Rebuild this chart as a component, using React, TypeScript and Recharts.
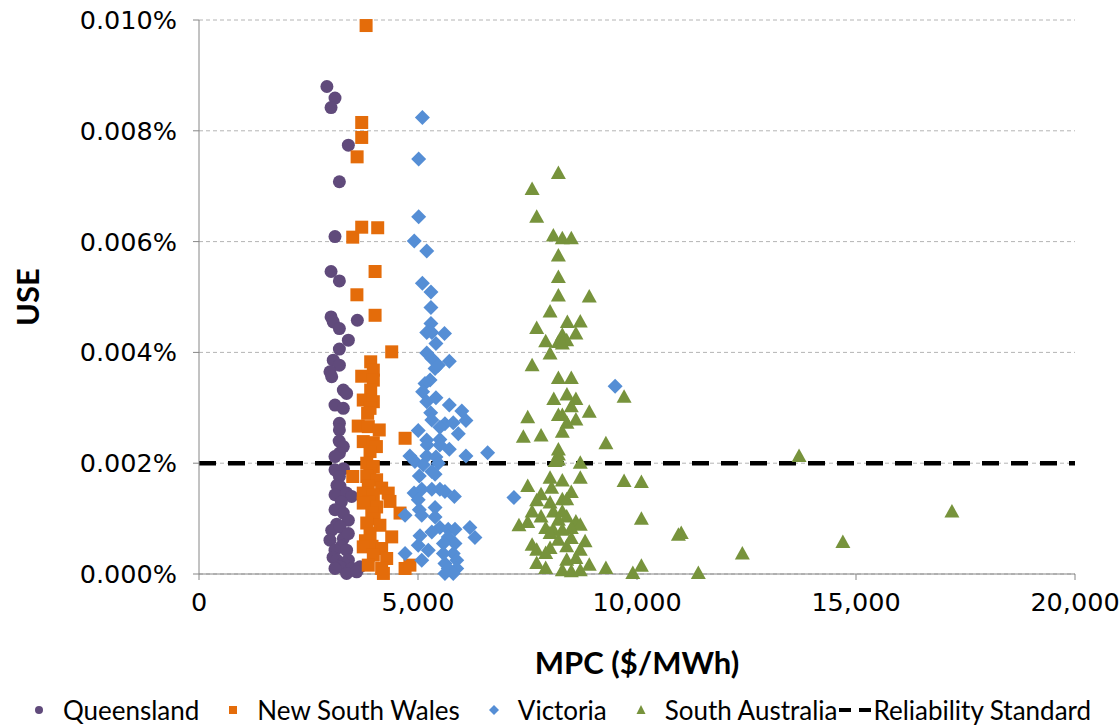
import { CartesianGrid, Legend, ReferenceLine, Scatter, ScatterChart, XAxis, YAxis } from "recharts"

// MPC ($/MWh), USE (%)
const queensland: [number, number][] = [
  [2920, 0.0088], [3105, 0.00859], [3015, 0.00842], [3410, 0.00774], [3205, 0.00708],
  [3105, 0.00609], [3015, 0.00546], [3205, 0.00529], [3015, 0.00464], [3615, 0.00458],
  [3065, 0.00455], [3205, 0.00443], [3410, 0.00422], [3205, 0.00406], [3065, 0.00386],
  [3205, 0.00377], [2990, 0.00365], [3030, 0.00356], [3295, 0.00332], [3370, 0.00326],
  [3105, 0.00305], [3295, 0.00299], [3205, 0.00272], [3205, 0.0026], [3200, 0.0024],
  [3295, 0.0023], [3205, 0.00218], [3105, 0.00212], [3300, 0.0019], [3105, 0.00188],
  [3205, 0.00176], [3150, 0.0016], [3220, 0.00158], [3105, 0.00143], [3370, 0.00146],
  [3485, 0.0014], [3250, 0.0013], [3105, 0.00116], [3295, 0.0011], [3410, 0.00097],
  [3145, 0.0009], [3030, 0.00079], [3220, 0.00085], [2990, 0.00061], [3295, 0.00064],
  [3410, 0.00073], [3250, 0.0005], [3105, 0.00043], [3370, 0.00043], [3060, 0.0003],
  [3145, 0.00025], [3410, 0.00025], [3300, 0.0002], [3220, 0.00013], [3485, 0.0001],
  [3675, 0.00013], [3370, 0.00001], [3105, 0.0001], [3600, 0.00004],
]

const newSouthWales: [number, number][] = [
  [3815, 0.0099], [3715, 0.00815], [3715, 0.00788], [3610, 0.00753], [3715, 0.00626],
  [3510, 0.00608], [4080, 0.00625], [4020, 0.00546], [3605, 0.00504], [4020, 0.00467],
  [4400, 0.00401], [3920, 0.00383], [3980, 0.00368], [3715, 0.00357], [3980, 0.0035],
  [3920, 0.00332], [3750, 0.00314], [3980, 0.00311], [3905, 0.00299], [3850, 0.0029],
  [3635, 0.00267], [3865, 0.00266], [4115, 0.0026], [3750, 0.00239], [3980, 0.00237],
  [4705, 0.00245], [4050, 0.0023], [3905, 0.00221], [3830, 0.002], [3980, 0.00194],
  [3900, 0.0018], [3510, 0.00176], [3830, 0.00176], [4055, 0.0017], [3865, 0.00158],
  [4170, 0.00155], [3750, 0.00146], [4320, 0.00146], [3980, 0.00143], [3880, 0.0013],
  [3750, 0.00128], [4360, 0.00131], [4055, 0.00121], [4590, 0.0011], [3945, 0.0011],
  [4000, 0.001], [3830, 0.00092], [4130, 0.00088], [3905, 0.00073], [4400, 0.00067],
  [3800, 0.0006], [3950, 0.0005], [3750, 0.00049], [4170, 0.00046], [3980, 0.00034],
  [4285, 0.00028], [3865, 0.00016], [4170, 0.0001], [4705, 0.0001], [4815, 0.00016],
  [4210, 0.00001],
]

const victoria: [number, number][] = [
  [5100, 0.00824], [5015, 0.00749], [5015, 0.00645], [4915, 0.00601], [5200, 0.00583],
  [5100, 0.00525], [5295, 0.00509], [5295, 0.00481], [5295, 0.00452], [5200, 0.00436],
  [5315, 0.00436], [5605, 0.00434], [5410, 0.00416], [5200, 0.00399], [5315, 0.00389],
  [5465, 0.00377], [5715, 0.00384], [5390, 0.00371], [5275, 0.0035], [5160, 0.00344],
  [5105, 0.00329], [5200, 0.00311], [5410, 0.00318], [5715, 0.00305], [6000, 0.00294],
  [5290, 0.00291], [5315, 0.00278], [6095, 0.00277], [5615, 0.00271], [5805, 0.00273],
  [5500, 0.00265], [5920, 0.00253], [5005, 0.00259], [5200, 0.00242], [5500, 0.00243],
  [5210, 0.00233], [5500, 0.00233], [5715, 0.00225], [6590, 0.00219], [6095, 0.00213],
  [4815, 0.00213], [5200, 0.00213], [5410, 0.00211], [4930, 0.00203], [5120, 0.00197],
  [5465, 0.002], [5315, 0.00185], [5030, 0.00177], [5390, 0.0018], [7190, 0.00138],
  [4910, 0.00146], [5085, 0.00153], [5315, 0.00153], [5500, 0.00153], [5615, 0.00149],
  [5830, 0.0014], [5005, 0.00134], [4705, 0.00106], [5030, 0.00116], [5085, 0.00106],
  [5390, 0.0012], [5390, 0.00103], [6185, 0.00084], [6300, 0.00066], [5500, 0.00084],
  [5690, 0.00081], [5845, 0.00081], [5315, 0.00076], [5045, 0.00069], [5690, 0.00067],
  [5845, 0.00055], [5580, 0.00055], [5005, 0.00052], [5235, 0.00043], [4705, 0.00037],
  [5580, 0.00037], [5805, 0.00037], [5885, 0.00025], [5085, 0.00025], [5615, 0.00019],
  [5690, 0.0001], [5885, 0.0001], [5805, 0.00001], [5615, 0.00001], [9500, 0.00339],
]

const southAustralia: [number, number][] = [
  [8205, 0.00723], [7605, 0.00694], [7710, 0.00644], [8090, 0.0061], [8295, 0.00605],
  [8500, 0.00605], [8205, 0.00574], [8205, 0.00535], [8205, 0.00502], [8910, 0.005],
  [8015, 0.00473], [7710, 0.00443], [8410, 0.00454], [8705, 0.00455], [8605, 0.00433],
  [7915, 0.00419], [8295, 0.00431], [8205, 0.00418], [8395, 0.00421], [8295, 0.00415],
  [8015, 0.00397], [7605, 0.00376], [8205, 0.00353], [8500, 0.00353], [9705, 0.00319],
  [8400, 0.00323], [8100, 0.00315], [8605, 0.00315], [8500, 0.00302], [8910, 0.00292],
  [7505, 0.00282], [8205, 0.00286], [8295, 0.00286], [8605, 0.00278], [8400, 0.00272],
  [8295, 0.00256], [7405, 0.00247], [7810, 0.00249], [9290, 0.00235], [8205, 0.00224],
  [8205, 0.00215], [8130, 0.00203], [8705, 0.002], [8205, 0.00206], [8015, 0.00173],
  [8295, 0.00168], [8705, 0.00173], [9705, 0.00167], [10100, 0.00165], [7505, 0.00158],
  [8050, 0.00155], [7810, 0.00143], [8500, 0.00147], [7710, 0.00132], [8295, 0.00134],
  [8395, 0.00134], [8015, 0.00128], [7605, 0.00112], [7810, 0.00103], [8090, 0.00112],
  [8295, 0.00112], [8395, 0.00103], [8205, 0.00097], [10100, 0.00099], [7305, 0.00087],
  [7505, 0.00093], [8605, 0.00094], [8705, 0.00088], [7915, 0.00082], [8090, 0.00079],
  [8295, 0.00079], [8500, 0.00082], [8015, 0.00073], [8205, 0.00061], [8500, 0.00064],
  [7605, 0.00052], [7710, 0.00043], [8015, 0.00046], [7915, 0.00037], [8395, 0.00049],
  [8815, 0.00058], [8705, 0.00043], [7710, 0.00019], [7915, 0.0001], [8395, 0.00025],
  [8605, 0.00028], [8910, 0.00016], [8295, 0.00006], [8500, 0.00004], [8705, 0.00006],
  [9290, 0.0001], [9905, 0.00001], [10100, 0.00014], [10945, 0.0007], [11010, 0.00073],
  [12405, 0.00036], [13700, 0.00212], [14700, 0.00057], [17190, 0.00112], [11400, 0.00001],
]

const reliabilityStandard = 0.002
const xTicks = [0, 5000, 10000, 15000, 20000]
const yTicks = [0, 0.002, 0.004, 0.006, 0.008, 0.01]

const COLORS = {
  qld: "#604A7B",
  nsw: "#E46C0A",
  vic: "#558ED5",
  sa: "#77933C",
}

const toPoints = (rows: [number, number][]) => rows.map(([x, y]) => ({ x, y }))

const CircleMark = (p: any) => <circle cx={p.cx} cy={p.cy} r={6.5} fill={COLORS.qld} />
const SquareMark = (p: any) => (
  <rect x={p.cx - 6.5} y={p.cy - 6.5} width={13} height={13} fill={COLORS.nsw} />
)
const DiamondMark = (p: any) => (
  <polygon
    points={`${p.cx},${p.cy - 7.5} ${p.cx + 7.5},${p.cy} ${p.cx},${p.cy + 7.5} ${p.cx - 7.5},${p.cy}`}
    fill={COLORS.vic}
  />
)
const TriangleMark = (p: any) => (
  <polygon
    points={`${p.cx},${p.cy - 8} ${p.cx + 7.5},${p.cy + 5.5} ${p.cx - 7.5},${p.cy + 5.5}`}
    fill={COLORS.sa}
  />
)

const labelFont = "Lato, 'Open Sans', sans-serif"

function LegendContent() {
  const item = (marker: any, label: string, gap: number) => (
    <div style={{ display: "flex", alignItems: "center", marginRight: gap }}>
      <svg width={20} height={20} style={{ marginRight: 14 }}>{marker}</svg>
      <span>{label}</span>
    </div>
  )
  return (
    <div
      style={{
        display: "flex",
        justifyContent: "center",
        alignItems: "center",
        height: 36,
        paddingTop: 5,
        boxSizing: "border-box",
        fontFamily: labelFont,
        fontSize: 26,
        color: "#000",
      }}
    >
      {item(<circle cx={10} cy={10} r={4} fill={COLORS.qld} />, "Queensland", 24)}
      {item(<rect x={6} y={6} width={8} height={8} fill={COLORS.nsw} />, "New South Wales", 24)}
      {item(<polygon points="10,5 15,10 10,15 5,10" fill={COLORS.vic} />, "Victoria", 24)}
      {item(<polygon points="10,5 14.5,14 5.5,14" fill={COLORS.sa} />, "South Australia", 2)}
      <div style={{ display: "flex", alignItems: "center" }}>
        <svg width={32} height={20} style={{ marginRight: 2 }}>
          <line x1={0} y1={10} x2={32} y2={10} stroke="#000" strokeWidth={4} strokeDasharray="12 8" />
        </svg>
        <span>Reliability Standard</span>
      </div>
    </div>
  )
}

export default function App() {
  const tickStyle = { fontFamily: "'DejaVu Sans', sans-serif", fontSize: 25.5, fill: "#000" }
  return (
    <div style={{ position: "absolute", left: 0, top: 0, background: "#fff" }}>
      <ScatterChart width={1120} height={725} margin={{ top: 20, right: 45, bottom: 0, left: 0 }}>
        <CartesianGrid vertical={false} stroke="#B4B4B4" strokeDasharray="4 3" />
        <XAxis
          type="number"
          dataKey="x"
          domain={[0, 20000]}
          ticks={xTicks}
          tickFormatter={(v) => v.toLocaleString("en-US")}
          stroke="#868686"
          tick={tickStyle}
          tickSize={6}
          tickMargin={13}
          height={115}
          label={{
            value: "MPC ($/MWh)",
            position: "insideBottom",
            offset: 15,
            style: { fontFamily: labelFont, fontWeight: 700, fontSize: 31, fill: "#000" },
          }}
        />
        <YAxis
          type="number"
          dataKey="y"
          domain={[0, 0.01]}
          ticks={yTicks}
          tickFormatter={(v) => `${v.toFixed(3)}%`}
          stroke="#868686"
          tick={tickStyle}
          tickSize={6}
          tickMargin={16}
          width={199}
          label={{
            content: ({ viewBox }: any) => {
              const cx = viewBox.x + 27
              const cy = viewBox.y + viewBox.height / 2
              return (
                <text
                  x={cx}
                  y={cy}
                  transform={`rotate(-90 ${cx} ${cy})`}
                  textAnchor="middle"
                  dominantBaseline="central"
                  style={{ fontFamily: labelFont, fontWeight: 700, fontSize: 31, fill: "#000" }}
                >
                  USE
                </text>
              )
            },
          }}
        />
        <Scatter name="Queensland" data={toPoints(queensland)} shape={CircleMark} isAnimationActive={false} />
        <Scatter name="New South Wales" data={toPoints(newSouthWales)} shape={SquareMark} isAnimationActive={false} />
        <Scatter name="Victoria" data={toPoints(victoria)} shape={DiamondMark} isAnimationActive={false} />
        <Scatter name="South Australia" data={toPoints(southAustralia)} shape={TriangleMark} isAnimationActive={false} />
        <ReferenceLine y={reliabilityStandard} stroke="#000" strokeWidth={4.5} strokeDasharray="17 12" />
        <Legend verticalAlign="bottom" content={<LegendContent />} wrapperStyle={{ left: 0, width: 1120 }} />
      </ScatterChart>
    </div>
  )
}
